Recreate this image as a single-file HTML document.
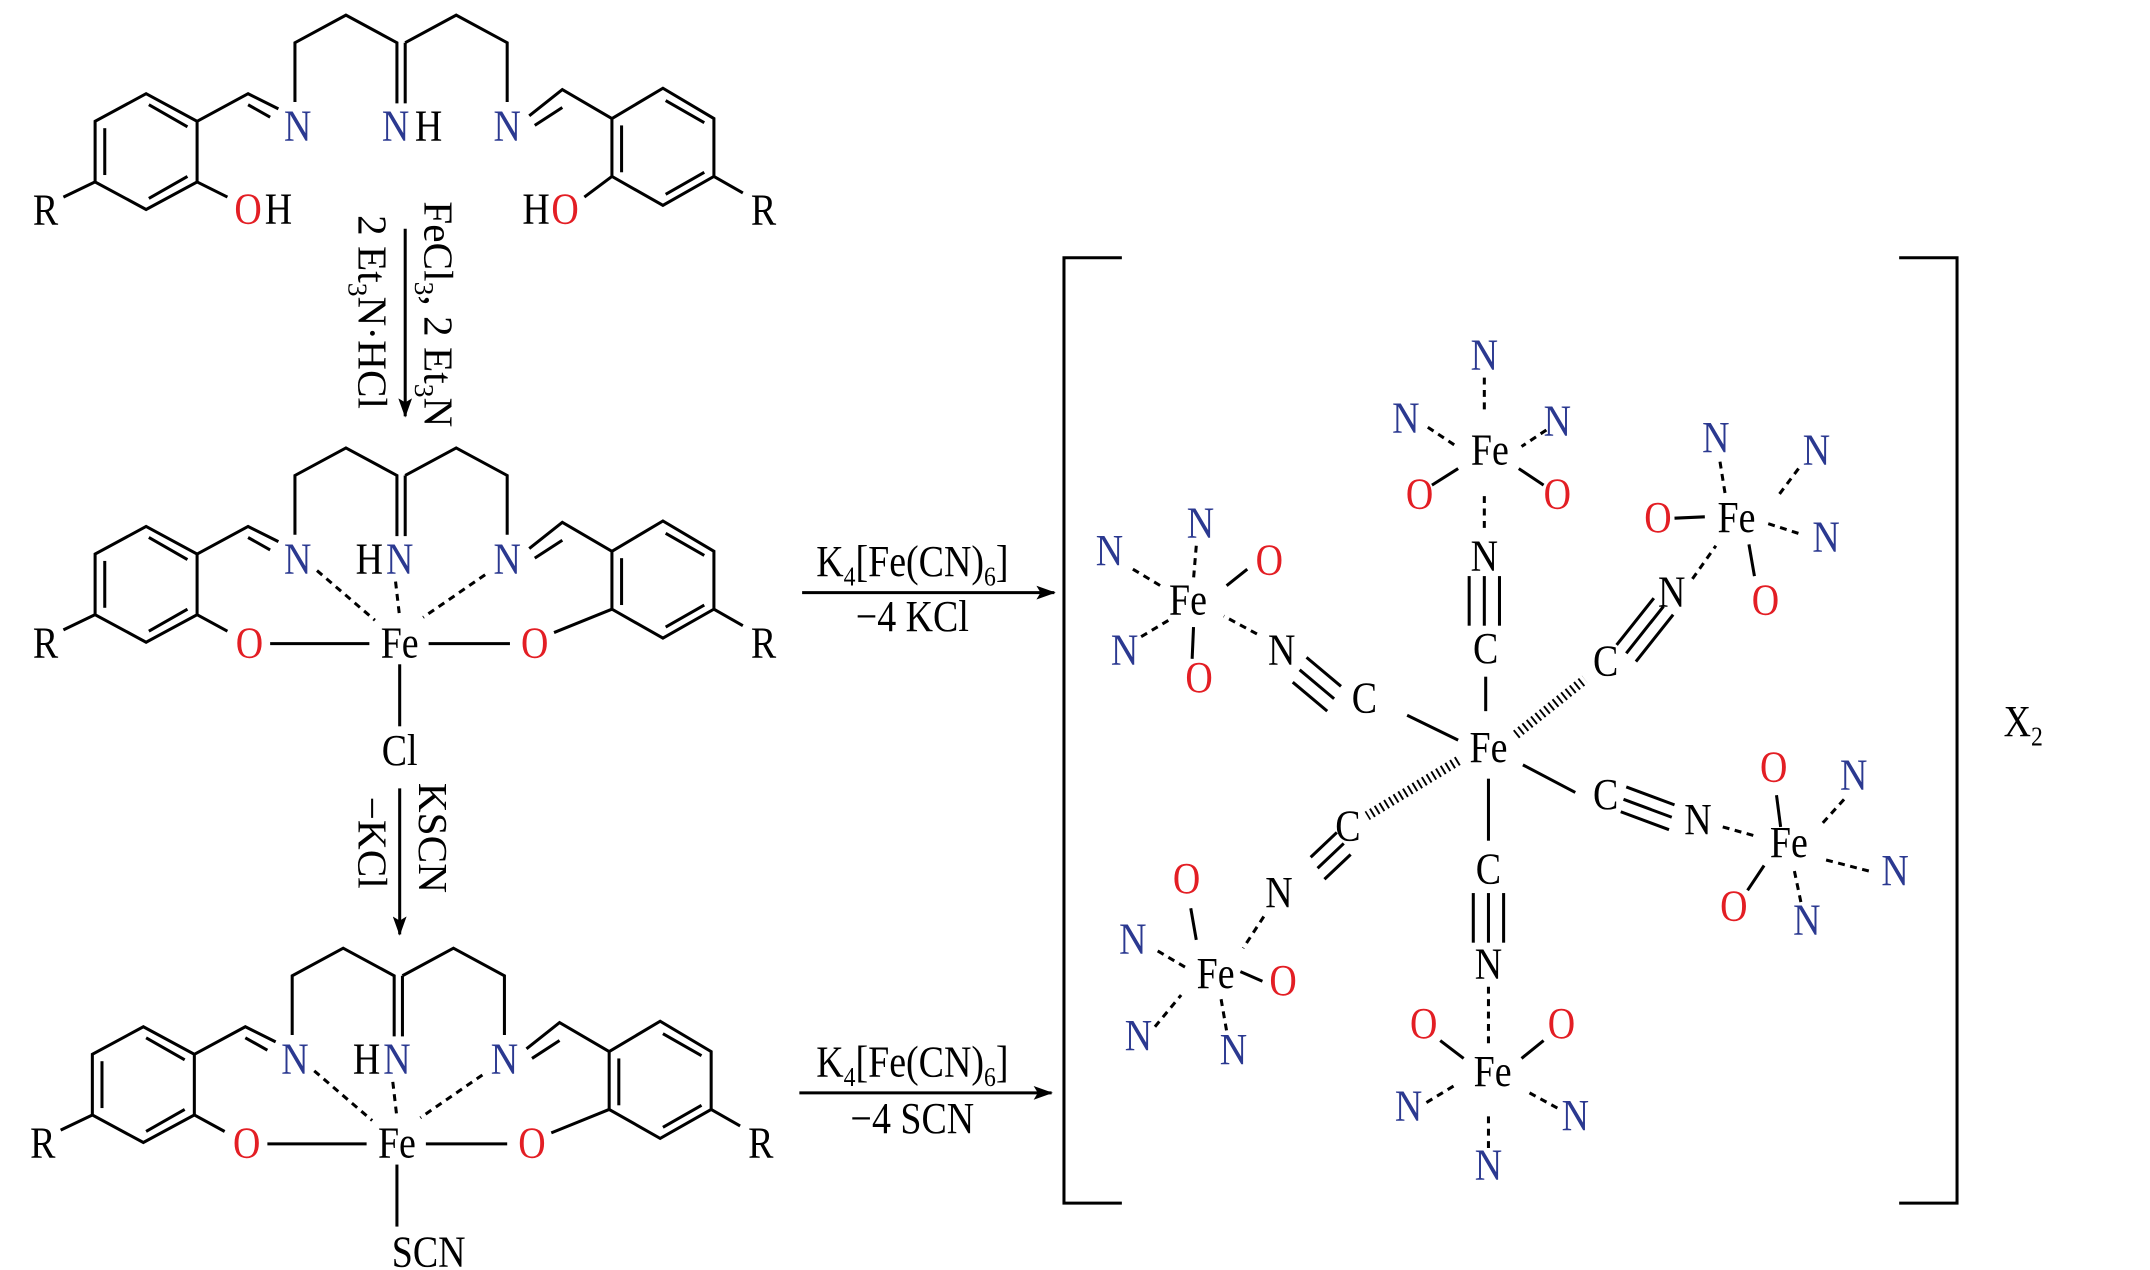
<!DOCTYPE html>
<html><head><meta charset="utf-8"><style>
html,body{margin:0;padding:0;background:#fff;}
svg{display:block}
text{font-family:"Liberation Serif",serif;font-size:32px;fill:#000;text-anchor:middle;transform-box:fill-box;transform-origin:center;transform:scaleX(.86)}
.b{fill:#2b3990}.r{fill:#e31e24}
line,polyline,polygon.s{stroke:#000;stroke-width:2.2;fill:none}
.d{stroke-dasharray:5 4}
.h{stroke-width:7;stroke-dasharray:1.4 2.6}
.sub{font-size:20px}
text.rt{transform-box:view-box;transform-origin:0 0;text-anchor:start;font-size:30px}
</style></head><body>
<svg width="2150" height="1270" viewBox="0 0 1560 921.5" xmlns="http://www.w3.org/2000/svg">
<defs>
<marker id="ah" markerWidth="14" markerHeight="10" refX="13" refY="5" orient="auto" markerUnits="userSpaceOnUse"><path d="M0,0 L14,5 L0,10 L3,5z" fill="#000"/></marker>
</defs>

<g>
<polygon class="s" points="106,68 143,88 143,132 106,152 69,132 69,88"/>
<line x1="108" y1="76" x2="136" y2="92"/><line x1="76" y1="93" x2="76" y2="127"/><line x1="108" y1="144" x2="136" y2="128"/>
<line x1="46" y1="143" x2="69" y2="132"/>
<polyline points="143,88 180,68 202,79"/><line x1="180" y1="76" x2="196" y2="85"/>
<polyline points="214,74 214,31 251,11 288,31 288,75"/><line x1="294" y1="31" x2="294" y2="75"/>
<polyline points="294,31 331,11 368,31 368,74"/>
<polyline points="384,84 408,65 444,86"/><line x1="388" y1="91" x2="408" y2="78"/>
<polygon class="s" points="444,86 481,64 518,86 518,128 481,149 444,128"/>
<line x1="483" y1="73" x2="511" y2="89"/><line x1="451" y1="91" x2="451" y2="125"/><line x1="483" y1="141" x2="511" y2="125"/>
<line x1="518" y1="128" x2="539" y2="140"/>
</g>
<line x1="143" y1="132" x2="165" y2="143"/><line x1="444" y1="128" x2="424" y2="143"/>
<text x="33" y="163">R</text><text x="554" y="163">R</text>
<text x="216" y="102" class="b">N</text>
<text x="287" y="102" class="b">N</text><text x="311" y="102">H</text>
<text x="368" y="102" class="b">N</text>
<text x="180" y="162" class="r">O</text><text x="202" y="162">H</text>
<text x="389" y="162">H</text><text x="410" y="162" class="r">O</text>

<line x1="294" y1="166" x2="294" y2="302" marker-end="url(#ah)"/>
<text class="rt" x="0" y="0" style="transform:translate(308px,146px) rotate(90deg)">FeCl<tspan class="sub" dy="7">3</tspan><tspan dy="-7">, 2 Et</tspan><tspan class="sub" dy="7">3</tspan><tspan dy="-7">N</tspan></text>
<text class="rt" x="0" y="0" style="transform:translate(260px,156px) rotate(90deg)">2 Et<tspan class="sub" dy="7">3</tspan><tspan dy="-7">N·HCl</tspan></text>

<g transform="translate(0,314)">
<polygon class="s" points="106,68 143,88 143,132 106,152 69,132 69,88"/>
<line x1="108" y1="76" x2="136" y2="92"/><line x1="76" y1="93" x2="76" y2="127"/><line x1="108" y1="144" x2="136" y2="128"/>
<line x1="46" y1="143" x2="69" y2="132"/>
<polyline points="143,88 180,68 202,79"/><line x1="180" y1="76" x2="196" y2="85"/>
<polyline points="214,74 214,31 251,11 288,31 288,75"/><line x1="294" y1="31" x2="294" y2="75"/>
<polyline points="294,31 331,11 368,31 368,74"/>
<polyline points="384,84 408,65 444,86"/><line x1="388" y1="91" x2="408" y2="78"/>
<polygon class="s" points="444,86 481,64 518,86 518,128 481,149 444,128"/>
<line x1="483" y1="73" x2="511" y2="89"/><line x1="451" y1="91" x2="451" y2="125"/><line x1="483" y1="141" x2="511" y2="125"/>
<line x1="518" y1="128" x2="539" y2="140"/>
<line x1="143" y1="132" x2="165" y2="144"/><line x1="444" y1="128" x2="402" y2="145"/>
<line x1="196" y1="153" x2="268" y2="153"/><line x1="311" y1="153" x2="370" y2="153"/>
<line class="d" x1="230" y1="100" x2="272" y2="136"/><line class="d" x1="287" y1="108" x2="290" y2="134"/><line class="d" x1="352" y1="103" x2="307" y2="134"/>
<line x1="290" y1="168" x2="290" y2="213"/>
<text x="33" y="163">R</text><text x="554" y="163">R</text>
<text x="216" y="102" class="b">N</text>
<text x="268" y="102">H</text><text x="290" y="102" class="b">N</text>
<text x="368" y="102" class="b">N</text>
<text x="181" y="163" class="r">O</text><text x="290" y="163">Fe</text><text x="388" y="163" class="r">O</text>
<text x="290" y="241">Cl</text>
</g>

<line x1="290" y1="572" x2="290" y2="678" marker-end="url(#ah)"/>
<text class="rt" style="transform:translate(304px,568px) rotate(90deg)">KSCN</text>
<text class="rt" style="transform:translate(260px,578px) rotate(90deg)">−KCl</text>

<g transform="translate(-2,677)">
<polygon class="s" points="106,68 143,88 143,132 106,152 69,132 69,88"/>
<line x1="108" y1="76" x2="136" y2="92"/><line x1="76" y1="93" x2="76" y2="127"/><line x1="108" y1="144" x2="136" y2="128"/>
<line x1="46" y1="143" x2="69" y2="132"/>
<polyline points="143,88 180,68 202,79"/><line x1="180" y1="76" x2="196" y2="85"/>
<polyline points="214,74 214,31 251,11 288,31 288,75"/><line x1="294" y1="31" x2="294" y2="75"/>
<polyline points="294,31 331,11 368,31 368,74"/>
<polyline points="384,84 408,65 444,86"/><line x1="388" y1="91" x2="408" y2="78"/>
<polygon class="s" points="444,86 481,64 518,86 518,128 481,149 444,128"/>
<line x1="483" y1="73" x2="511" y2="89"/><line x1="451" y1="91" x2="451" y2="125"/><line x1="483" y1="141" x2="511" y2="125"/>
<line x1="518" y1="128" x2="539" y2="140"/>
<line x1="143" y1="132" x2="165" y2="144"/><line x1="444" y1="128" x2="402" y2="145"/>
<line x1="196" y1="153" x2="268" y2="153"/><line x1="311" y1="153" x2="370" y2="153"/>
<line class="d" x1="230" y1="100" x2="272" y2="136"/><line class="d" x1="287" y1="108" x2="290" y2="134"/><line class="d" x1="352" y1="103" x2="307" y2="134"/>
<line x1="290" y1="168" x2="290" y2="213"/>
<text x="33" y="163">R</text><text x="554" y="163">R</text>
<text x="216" y="102" class="b">N</text>
<text x="268" y="102">H</text><text x="290" y="102" class="b">N</text>
<text x="368" y="102" class="b">N</text>
<text x="181" y="163" class="r">O</text><text x="290" y="163">Fe</text><text x="388" y="163" class="r">O</text>
<text x="313" y="242">SCN</text>
</g>

<line x1="582" y1="430" x2="765" y2="430" marker-end="url(#ah)"/>
<text x="662" y="418">K<tspan class="sub" dy="7">4</tspan><tspan dy="-7">[Fe(CN)</tspan><tspan class="sub" dy="7">6</tspan><tspan dy="-7">]</tspan></text>
<text x="662" y="458">−4 KCl</text>
<line x1="580" y1="793" x2="763" y2="793" marker-end="url(#ah)"/>
<text x="662" y="781">K<tspan class="sub" dy="7">4</tspan><tspan dy="-7">[Fe(CN)</tspan><tspan class="sub" dy="7">6</tspan><tspan dy="-7">]</tspan></text>
<text x="662" y="822">−4 SCN</text>

<polyline points="814,187 772,187 772,873 814,873"/>
<polyline points="1378,187 1420,187 1420,873 1378,873"/>
<text x="1468" y="534">X<tspan class="sub" dy="7">2</tspan></text>

<text x="1080" y="553">Fe</text>
<line x1="1078" y1="491" x2="1078" y2="516"/>
<text x="1078" y="481">C</text>
<line x1="1066" y1="418" x2="1066" y2="454"/><line x1="1077" y1="418" x2="1077" y2="454"/><line x1="1088" y1="418" x2="1088" y2="454"/>
<text x="1077" y="414">N</text>
<line class="d" x1="1077" y1="360" x2="1077" y2="386"/>
<text x="1081" y="337">Fe</text>
<text x="1077" y="268" class="b">N</text><line class="d" x1="1077" y1="274" x2="1077" y2="300"/>
<text x="1020" y="314" class="b">N</text><line class="d" x1="1036" y1="310" x2="1057" y2="324"/>
<text x="1130" y="316" class="b">N</text><line class="d" x1="1122" y1="312" x2="1104" y2="324"/>
<text x="1030" y="369" class="r">O</text><line x1="1039" y1="352" x2="1058" y2="340"/>
<text x="1130" y="369" class="r">O</text><line x1="1102" y1="340" x2="1120" y2="352"/>
<line x1="1021" y1="519" x2="1058" y2="537"/>
<text x="990" y="517">C</text>
<line x1="948" y1="477" x2="973" y2="498"/><line x1="943" y1="486" x2="968" y2="507"/><line x1="938" y1="495" x2="963" y2="516"/>
<text x="930" y="482">N</text>
<line class="d" x1="912" y1="460" x2="888" y2="447"/>
<text x="862" y="446">Fe</text>
<text x="805" y="410" class="b">N</text><line class="d" x1="822" y1="413" x2="842" y2="425"/>
<text x="871" y="390" class="b">N</text><line class="d" x1="868" y1="396" x2="866" y2="420"/>
<text x="921" y="417" class="r">O</text><line x1="905" y1="413" x2="890" y2="425"/>
<text x="816" y="482" class="b">N</text><line class="d" x1="828" y1="462" x2="848" y2="450"/>
<text x="870" y="502" class="r">O</text><line x1="866" y1="455" x2="865" y2="478"/>
<line class="h" x1="1100" y1="533" x2="1150" y2="493"/>
<text x="1165" y="490">C</text>
<line x1="1173" y1="468" x2="1200" y2="434"/><line x1="1180" y1="474" x2="1207" y2="440"/><line x1="1187" y1="480" x2="1214" y2="446"/>
<text x="1213" y="440">N</text>
<line class="d" x1="1228" y1="420" x2="1245" y2="396"/>
<text x="1260" y="386">Fe</text>
<text x="1203" y="386" class="r">O</text><line x1="1215" y1="376" x2="1237" y2="375"/>
<text x="1245" y="328" class="b">N</text><line class="d" x1="1248" y1="335" x2="1252" y2="360"/>
<text x="1318" y="337" class="b">N</text><line class="d" x1="1305" y1="340" x2="1290" y2="360"/>
<text x="1325" y="400" class="b">N</text><line class="d" x1="1283" y1="380" x2="1308" y2="388"/>
<text x="1281" y="446" class="r">O</text><line x1="1269" y1="395" x2="1273" y2="418"/>
<line x1="1105" y1="555" x2="1143" y2="575"/>
<text x="1165" y="587">C</text>
<line x1="1180" y1="571" x2="1215" y2="584"/><line x1="1178" y1="580" x2="1213" y2="593"/><line x1="1176" y1="589" x2="1211" y2="602"/>
<text x="1232" y="605">N</text>
<line class="d" x1="1250" y1="600" x2="1275" y2="607"/>
<text x="1298" y="622">Fe</text>
<text x="1287" y="567" class="r">O</text><line x1="1289" y1="577" x2="1292" y2="600"/>
<text x="1345" y="573" class="b">N</text><line class="d" x1="1338" y1="580" x2="1320" y2="600"/>
<text x="1375" y="642" class="b">N</text><line class="d" x1="1325" y1="624" x2="1356" y2="632"/>
<text x="1311" y="678" class="b">N</text><line class="d" x1="1302" y1="632" x2="1307" y2="656"/>
<text x="1258" y="668" class="r">O</text><line x1="1268" y1="646" x2="1280" y2="628"/>
<line x1="1080" y1="565" x2="1080" y2="610"/>
<text x="1080" y="641">C</text>
<line x1="1069" y1="648" x2="1069" y2="684"/><line x1="1080" y1="648" x2="1080" y2="684"/><line x1="1091" y1="648" x2="1091" y2="684"/>
<text x="1080" y="710">N</text>
<line class="d" x1="1080" y1="716" x2="1080" y2="760"/>
<text x="1083" y="788">Fe</text>
<text x="1033" y="753" class="r">O</text><line x1="1045" y1="755" x2="1062" y2="768"/>
<text x="1133" y="753" class="r">O</text><line x1="1120" y1="755" x2="1104" y2="768"/>
<text x="1022" y="813" class="b">N</text><line class="d" x1="1035" y1="800" x2="1058" y2="786"/>
<text x="1143" y="820" class="b">N</text><line class="d" x1="1130" y1="804" x2="1108" y2="792"/>
<text x="1080" y="856" class="b">N</text><line class="d" x1="1080" y1="810" x2="1080" y2="836"/>
<line class="h" x1="1058" y1="552" x2="992" y2="592"/>
<text x="978" y="610">C</text>
<line x1="951" y1="622" x2="970" y2="604"/><line x1="956" y1="630" x2="975" y2="612"/><line x1="961" y1="638" x2="980" y2="620"/>
<text x="928" y="658">N</text>
<line class="d" x1="917" y1="665" x2="902" y2="688"/>
<text x="882" y="717">Fe</text>
<text x="861" y="648" class="r">O</text><line x1="864" y1="659" x2="868" y2="682"/>
<text x="822" y="692" class="b">N</text><line class="d" x1="840" y1="690" x2="862" y2="703"/>
<text x="931" y="722" class="r">O</text><line x1="900" y1="705" x2="916" y2="712"/>
<text x="826" y="762" class="b">N</text><line class="d" x1="838" y1="745" x2="857" y2="722"/>
<text x="895" y="772" class="b">N</text><line class="d" x1="886" y1="725" x2="890" y2="748"/>
</svg>
</body></html>
